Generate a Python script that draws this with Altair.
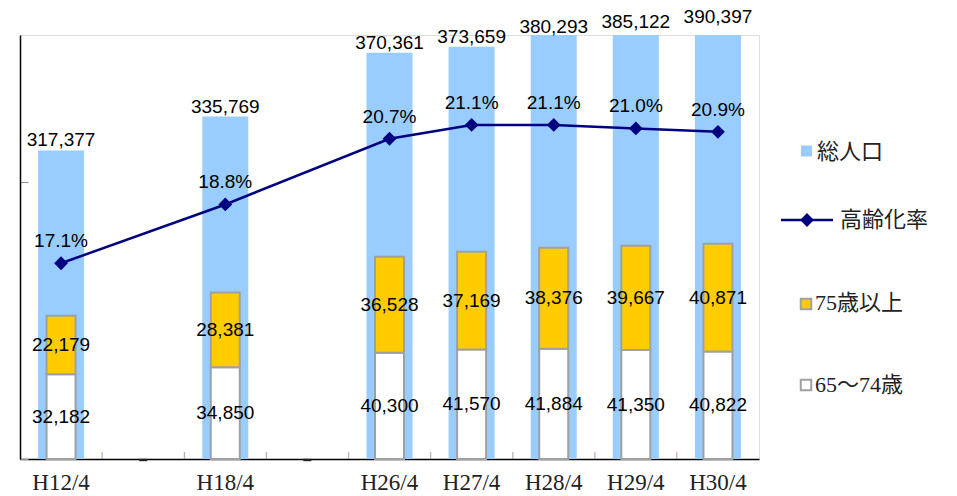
import altair as alt
import pandas as pd

# ---- data ----
x_domain = ["H12/4", " ", "H18/4", "  ", "H26/4", "H27/4", "H28/4", "H29/4", "H30/4"]
years = ["H12/4", "H18/4", "H26/4", "H27/4", "H28/4", "H29/4", "H30/4"]
total_pop = [317377, 335769, 370361, 373659, 380293, 385122, 390397]
age_65_74 = [32182, 34850, 40300, 41570, 41884, 41350, 40822]
age_75_up = [22179, 28381, 36528, 37169, 38376, 39667, 40871]
aging_rate = [17.1, 18.8, 20.7, 21.1, 21.1, 21.0, 20.9]
legend_labels = ["総人口", "高齢化率", "75歳以上", "65～74歳"]

BLUE = "#99CCFF"
YELLOW = "#FFCC00"
GRAY = "#A0A0A0"
NAVY = "#000080"
NUM_FONT = "Liberation Sans"
SERIF = "Liberation Serif, Noto Sans CJK JP"

W, H = 739, 424
HALF_BAND = W / len(x_domain) / 2

df = pd.DataFrame({"year": years, "total": total_pop, "a": age_65_74,
                   "b": age_75_up, "rate": aging_rate})

rows = []
for y, a, b in zip(years, age_65_74, age_75_up):
    rows.append({"year": y, "group": legend_labels[3], "y0": 0, "y1": a, "mid": a / 2, "val": a})
    rows.append({"year": y, "group": legend_labels[2], "y0": a, "y1": a + b, "mid": a + b / 2, "val": b})
stack_df = pd.DataFrame(rows)

cat_df = pd.DataFrame({"year": x_domain[1:]})
blank_df = pd.DataFrame({"year": [c for c in x_domain if c.strip() == ""]})

xscale = alt.Scale(domain=x_domain, paddingInner=0, paddingOuter=0)
total_scale = alt.Scale(domain=[150000, 380000], zero=False, nice=False)
stack_scale = alt.Scale(domain=[0, 161000], nice=False)
rate_scale = alt.Scale(domain=[11.44, 23.7], zero=False, nice=False)

XN = alt.X("year:N", scale=xscale, sort=x_domain, axis=None)

base = alt.Chart(df)

total_bars = base.mark_bar(color=BLUE, size=46, clip=True).encode(
    x=XN,
    y=alt.Y("total:Q", scale=total_scale,
            axis=alt.Axis(orient="right", offset=-W, labels=False, title=None,
                          values=[150000, 300000], domainColor="black",
                          domainWidth=1.5, tickColor="#909090", tickSize=8,
                          grid=False)),
)

stack_bars = alt.Chart(stack_df).mark_bar(size=29, stroke=GRAY, strokeWidth=2).encode(
    x=alt.X("year:N", scale=xscale, sort=x_domain,
            axis=alt.Axis(orient="bottom", domain=True, domainColor="black",
                          domainWidth=1.5, ticks=False, tickSize=0,
                          labelFont=SERIF, labelFontSize=23, labelColor="#222222",
                          labelPadding=12, labelAngle=0, title=None, grid=False)),
    y=alt.Y("y0:Q", scale=stack_scale, axis=None),
    y2="y1:Q",
    color=alt.Color("group:N", scale=alt.Scale(domain=[legend_labels[3], legend_labels[2]],
                                               range=["white", YELLOW]), legend=None),
)

# category-boundary ticks pointing up from the x axis
x_ticks = alt.Chart(cat_df).mark_text(
    text="|", font=NUM_FONT, fontSize=8, color="#707070", baseline="alphabetic",
    dx=-HALF_BAND).encode(
    x=XN, y=alt.value(H - 1.7),
)
# small dark marks at the empty categories
blank_marks = alt.Chart(blank_df).mark_point(
    shape="M-1,-0.3L1,-0.3L1,0.3L-1,0.3Z", filled=True, size=64,
    color="#222222", opacity=1).encode(
    x=XN, y=alt.value(H + 1),
)

total_labels = base.transform_calculate(
    pos="datum.total > 378000 ? 378000 + (datum.total - 378000) * 0.5 : datum.total"
).mark_text(font=NUM_FONT, fontSize=19, dy=-10, baseline="middle", color="black").encode(
    x=XN,
    y=alt.Y("pos:Q", scale=total_scale, axis=None),
    text=alt.Text("total:Q", format=","),
)

stack_labels = alt.Chart(stack_df).mark_text(font=NUM_FONT, fontSize=19, baseline="middle",
                                             color="black").encode(
    x=XN,
    y=alt.Y("mid:Q", scale=stack_scale, axis=None),
    text=alt.Text("val:Q", format=","),
)

rate_line = base.mark_line(color=NAVY, strokeWidth=2.5).encode(
    x=XN, y=alt.Y("rate:Q", scale=rate_scale, axis=None),
)
rate_points = base.mark_point(shape="diamond", filled=True, size=190, color=NAVY, opacity=1).encode(
    x=XN, y=alt.Y("rate:Q", scale=rate_scale, axis=None),
)
rate_labels = base.transform_calculate(
    lbl="format(datum.rate, '.1f') + '%'"
).mark_text(font=NUM_FONT, fontSize=19, dy=-22, baseline="middle", color="black").encode(
    x=XN, y=alt.Y("rate:Q", scale=rate_scale, axis=None),
    text="lbl:N",
)

# ---- legend ----
leg = pd.DataFrame({"label": legend_labels})
leg_font = dict(font=SERIF, fontSize=22, color="#222222", align="left", baseline="middle")

def one(i):
    return alt.Chart(leg).transform_filter(alt.datum.label == legend_labels[i])

lg_sq1 = one(0).mark_square(size=121, color=BLUE, opacity=1).encode(
    x=alt.value(786.5), y=alt.value(116))
lg_t1 = one(0).mark_text(**leg_font).encode(x=alt.value(797), y=alt.value(117), text="label:N")
lg_line = one(1).mark_rule(color=NAVY, strokeWidth=2.5).encode(
    x=alt.value(761), x2=alt.value(813), y=alt.value(185))
lg_dia = one(1).mark_point(shape="diamond", filled=True, size=190, color=NAVY, opacity=1).encode(
    x=alt.value(787), y=alt.value(185))
lg_t2 = one(1).mark_text(**leg_font).encode(x=alt.value(820), y=alt.value(185), text="label:N")
lg_sq3 = one(2).mark_square(size=110, fill=YELLOW, stroke=GRAY, strokeWidth=2, opacity=1).encode(
    x=alt.value(786), y=alt.value(269))
lg_t3 = one(2).mark_text(**leg_font).encode(x=alt.value(795), y=alt.value(268), text="label:N")
lg_sq4 = one(3).mark_square(size=110, fill="white", stroke=GRAY, strokeWidth=2, opacity=1).encode(
    x=alt.value(786), y=alt.value(350))
lg_t4 = one(3).mark_text(**leg_font).encode(x=alt.value(795), y=alt.value(350), text="label:N")

chart = alt.layer(
    total_bars, stack_bars, x_ticks, blank_marks, rate_line, rate_points,
    total_labels, stack_labels, rate_labels,
    lg_sq1, lg_t1, lg_line, lg_dia, lg_t2, lg_sq3, lg_t3, lg_sq4, lg_t4,
).resolve_scale(y="independent").resolve_axis(x="independent").properties(
    width=W, height=H,
    autosize=alt.AutoSizeParams(type="none"),
    padding={"left": 20, "top": 35, "right": 198, "bottom": 37},
).configure_view(stroke=None).configure(background="white")

chart.save("out.html", embed_options={"renderer": "svg", "actions": False})
